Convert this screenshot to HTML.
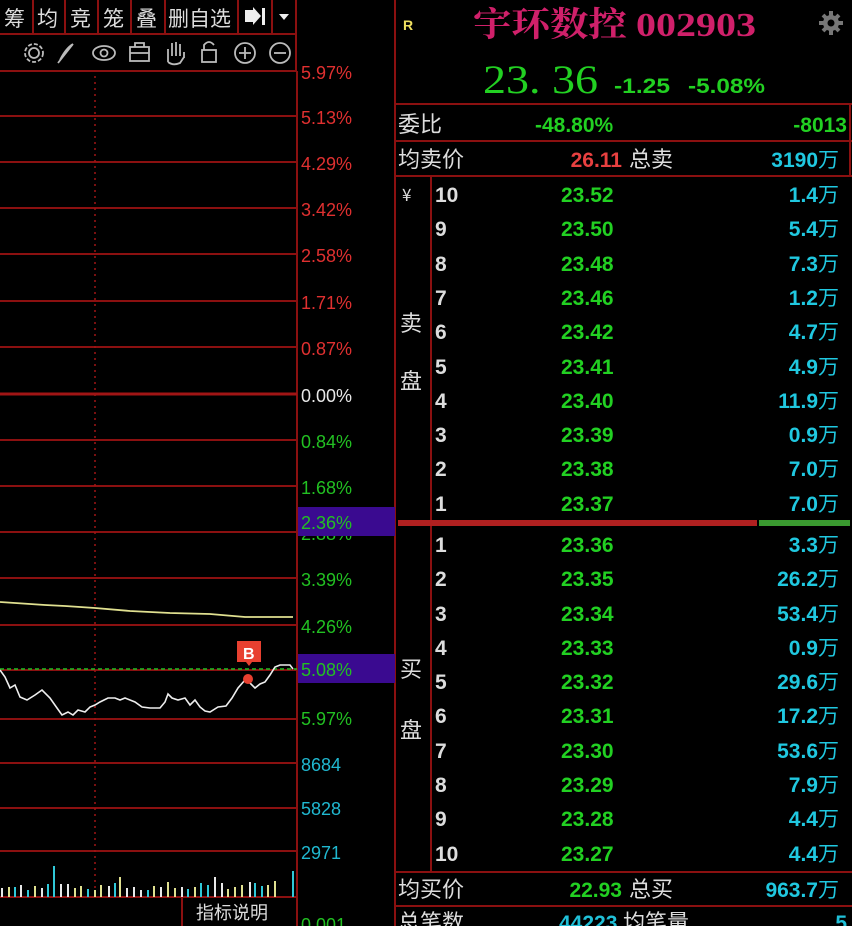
<!DOCTYPE html>
<html><head><meta charset="utf-8"><style>
html,body{margin:0;padding:0;background:#000;width:852px;height:926px;overflow:hidden}
svg{display:block}
text{font-family:"Liberation Sans","Noto Sans CJK SC",sans-serif}
text.cj,.cj text,tspan.cj{font-family:"WenQuanYi Zen Hei","Noto Sans CJK SC",sans-serif}
text.ser{font-family:"Liberation Serif","Noto Serif CJK SC",serif}
text.ttl{font-family:"Noto Serif CJK SC","Liberation Serif",serif}
</style></head><body>
<svg width="852" height="926" viewBox="0 0 852 926" xmlns="http://www.w3.org/2000/svg">
<rect width="852" height="926" fill="#000"/>
<g stroke="#8b1010" stroke-width="2" fill="none">
<line x1="0" y1="34" x2="296" y2="34"/>
<line x1="0" y1="71" x2="296" y2="71"/>
<line x1="33" y1="0" x2="33" y2="34"/><line x1="65" y1="0" x2="65" y2="34"/>
<line x1="98" y1="0" x2="98" y2="34"/><line x1="131" y1="0" x2="131" y2="34"/>
<line x1="165" y1="0" x2="165" y2="34"/><line x1="238" y1="0" x2="238" y2="34"/>
<line x1="272" y1="0" x2="272" y2="34"/><line x1="296" y1="0" x2="296" y2="71"/>
</g>
<g class="cj" fill="#ddd" font-size="21">
<text x="4" y="26">筹</text><text x="37" y="26">均</text>
<text x="70" y="26">竞</text><text x="103" y="26">笼</text>
<text x="136" y="26">叠</text><text x="168" y="26">删自选</text>
</g>
<path d="M245 10 h8 v-3 l8 9 l-8 9 v-3 h-8z" fill="#eee"/><rect x="262" y="8" width="3" height="17" fill="#eee"/>
<path d="M279 14 h10 l-5 6z" fill="#eee"/>
<g stroke="#bbb" stroke-width="1.8" fill="none">
<circle cx="34" cy="53" r="5"/><circle cx="34" cy="53" r="9" stroke-dasharray="4 2"/>
<path d="M58 63 L73 44 M60 60 q6 -12 13 -16"/>
<ellipse cx="104" cy="53" rx="11" ry="7"/><circle cx="104" cy="53" r="3.5"/>
<rect x="130" y="47" width="19" height="14"/><path d="M135 47 v-4 h9 v4 M130 53 h19"/>
<path d="M168 62 v-13 M172 56 v-13 M176 56 v-14 M180 56 v-12 M184 58 v-6 M168 62 q5 4 12 1 l4 -6"/>
<rect x="202" y="50" width="14" height="12"/><path d="M204 50 v-5 q5 -6 10 0"/>
<circle cx="245" cy="53" r="10"/><path d="M239 53 h12 M245 47 v12"/>
<circle cx="280" cy="53" r="10"/><path d="M274 53 h12"/>
</g>
<g stroke="#8b1010" stroke-width="2">
<line x1="0" y1="71" x2="297" y2="71"/><line x1="0" y1="116" x2="297" y2="116"/>
<line x1="0" y1="162" x2="297" y2="162"/><line x1="0" y1="208" x2="297" y2="208"/>
<line x1="0" y1="254" x2="297" y2="254"/><line x1="0" y1="301" x2="297" y2="301"/>
<line x1="0" y1="347" x2="297" y2="347"/>
<line x1="0" y1="440" x2="297" y2="440"/><line x1="0" y1="486" x2="297" y2="486"/>
<line x1="0" y1="532" x2="297" y2="532"/><line x1="0" y1="578" x2="297" y2="578"/>
<line x1="0" y1="625" x2="297" y2="625"/><line x1="0" y1="670" x2="297" y2="670"/>
<line x1="0" y1="719" x2="297" y2="719"/><line x1="0" y1="763" x2="297" y2="763"/>
<line x1="0" y1="808" x2="297" y2="808"/><line x1="0" y1="851" x2="297" y2="851"/>
<line x1="0" y1="897" x2="297" y2="897"/>
<line x1="297" y1="71" x2="297" y2="926"/>
<line x1="395" y1="0" x2="395" y2="926"/>
<line x1="182" y1="897" x2="182" y2="926"/>
</g>
<line x1="0" y1="394" x2="297" y2="394" stroke="#a01515" stroke-width="3"/>
<line x1="95" y1="76" x2="95" y2="897" stroke="#a01515" stroke-width="1.5" stroke-dasharray="2 4"/>
<g font-size="18">
<g fill="#e03030">
<text x="301" y="79">5.97%</text><text x="301" y="124">5.13%</text><text x="301" y="170">4.29%</text>
<text x="301" y="216">3.42%</text><text x="301" y="262">2.58%</text><text x="301" y="309">1.71%</text>
<text x="301" y="355">0.87%</text></g>
<text x="301" y="402" fill="#e8e8e8">0.00%</text>
<g fill="#22c022">
<text x="301" y="448">0.84%</text><text x="301" y="494">1.68%</text><text x="301" y="540">2.88%</text>
<text x="301" y="586">3.39%</text><text x="301" y="633">4.26%</text><text x="301" y="725">5.97%</text></g>
<g fill="#20b8d0"><text x="301" y="771">8684</text><text x="301" y="815">5828</text><text x="301" y="859">2971</text></g>
<text x="301" y="931" fill="#22c022">0.001</text>
</g>
<rect x="298" y="507" width="97" height="29" fill="#3a0a90"/>
<text x="301" y="529" font-size="18" fill="#22c022">2.36%</text>
<rect x="298" y="654" width="97" height="29" fill="#3a0a90"/>
<text x="301" y="676" font-size="18" fill="#22c022">5.08%</text>
<line x1="0" y1="669" x2="297" y2="669" stroke="#22c022" stroke-width="1.5" stroke-dasharray="4 3"/>
<polyline fill="none" stroke="#e0e090" stroke-width="1.8" points="0,602 45,605 65,606 95,608 130,611 170,613 210,614 245,617 293,617"/>
<polyline fill="none" stroke="#eee" stroke-width="1.6" points="0,670 5,677 10,688 15,685 20,697 27,700 35,695 42,690 50,698 57,708 62,715 68,712 73,715 78,710 85,712 90,707 95,705 100,702 108,698 115,698 120,700 125,698 130,700 135,702 142,707 150,708 160,708 165,702 168,694 172,698 178,700 185,698 190,705 195,700 200,707 205,711 210,712 218,707 226,706 232,698 238,688 245,680 250,683 255,688 260,684 265,682 270,675 275,667 280,665 290,665 293,669"/>
<circle cx="248" cy="679" r="5" fill="#e84030"/>
<path d="M237 641 h24 v21 h-9 l-3 4 l-3 -4 h-9z" fill="#e84030"/>
<text x="243" y="659" font-size="16" fill="#fff" font-weight="bold">B</text>
<g stroke-width="2">
<g stroke="#e8e8e8"><line x1="2" y1="897" x2="2" y2="888"/><line x1="21" y1="897" x2="21" y2="885"/><line x1="42" y1="897" x2="42" y2="888"/><line x1="61" y1="897" x2="61" y2="884"/><line x1="68" y1="897" x2="68" y2="884"/><line x1="109" y1="897" x2="109" y2="886"/><line x1="127" y1="897" x2="127" y2="888"/><line x1="134" y1="897" x2="134" y2="887"/><line x1="141" y1="897" x2="141" y2="890"/><line x1="161" y1="897" x2="161" y2="887"/><line x1="182" y1="897" x2="182" y2="887"/><line x1="215" y1="897" x2="215" y2="877"/><line x1="222" y1="897" x2="222" y2="883"/><line x1="250" y1="897" x2="250" y2="882"/></g>
<g stroke="#e0e090"><line x1="9" y1="897" x2="9" y2="887"/><line x1="35" y1="897" x2="35" y2="886"/><line x1="75" y1="897" x2="75" y2="888"/><line x1="81" y1="897" x2="81" y2="886"/><line x1="95" y1="897" x2="95" y2="890"/><line x1="101" y1="897" x2="101" y2="885"/><line x1="120" y1="897" x2="120" y2="877"/><line x1="154" y1="897" x2="154" y2="886"/><line x1="168" y1="897" x2="168" y2="882"/><line x1="175" y1="897" x2="175" y2="888"/><line x1="195" y1="897" x2="195" y2="887"/><line x1="228" y1="897" x2="228" y2="889"/><line x1="235" y1="897" x2="235" y2="887"/><line x1="242" y1="897" x2="242" y2="885"/><line x1="268" y1="897" x2="268" y2="885"/><line x1="275" y1="897" x2="275" y2="881"/></g>
<g stroke="#30c8d8"><line x1="15" y1="897" x2="15" y2="887"/><line x1="28" y1="897" x2="28" y2="890"/><line x1="48" y1="897" x2="48" y2="884"/><line x1="54" y1="897" x2="54" y2="866"/><line x1="88" y1="897" x2="88" y2="889"/><line x1="115" y1="897" x2="115" y2="883"/><line x1="148" y1="897" x2="148" y2="890"/><line x1="188" y1="897" x2="188" y2="889"/><line x1="201" y1="897" x2="201" y2="883"/><line x1="208" y1="897" x2="208" y2="885"/><line x1="255" y1="897" x2="255" y2="883"/><line x1="262" y1="897" x2="262" y2="886"/><line x1="293" y1="897" x2="293" y2="871"/></g>
</g>
<text x="196" y="919" class="cj" font-size="18" fill="#ddd">指标说明</text>
<text x="403" y="30" font-size="14" font-weight="bold" fill="#f0e060">R</text>
<text x="473" y="36" class="ttl" font-size="34" font-weight="bold" fill="#d0206a" textLength="154" lengthAdjust="spacingAndGlyphs">宇环数控</text>
<text x="636" y="36" class="ser" font-size="34" font-weight="bold" fill="#d0206a" textLength="120" lengthAdjust="spacingAndGlyphs">002903</text>
<g fill="#777"><circle cx="831" cy="23" r="8"/></g>
<g stroke="#777" stroke-width="4"><line x1="831" y1="11" x2="831" y2="35"/><line x1="819" y1="23" x2="843" y2="23"/><line x1="823" y1="15" x2="839" y2="31"/><line x1="839" y1="15" x2="823" y2="31"/></g>
<circle cx="831" cy="23" r="3.5" fill="#000"/>
<text x="483" y="93" class="ser" font-size="40" fill="#22d022" textLength="115" lengthAdjust="spacingAndGlyphs">23. 36</text>
<text x="614" y="93" font-size="21" font-weight="bold" fill="#22d022" textLength="56" lengthAdjust="spacingAndGlyphs">-1.25</text>
<text x="688" y="93" font-size="21" font-weight="bold" fill="#22d022" textLength="77" lengthAdjust="spacingAndGlyphs">-5.08%</text>
<g stroke="#8b1010" stroke-width="2">
<line x1="395" y1="104" x2="852" y2="104"/><line x1="395" y1="141" x2="852" y2="141"/>
<line x1="395" y1="176" x2="852" y2="176"/><line x1="395" y1="872" x2="852" y2="872"/>
<line x1="395" y1="906" x2="852" y2="906"/><line x1="431" y1="176" x2="431" y2="872"/>
<line x1="850" y1="104" x2="850" y2="176"/>
</g>
<g class="cj" font-size="22" fill="#ddd">
<text x="398" y="132">委比</text><text x="398" y="167">均卖价</text><text x="629" y="167">总卖</text>
<text x="398" y="897">均买价</text><text x="629" y="897">总买</text>
<text x="398" y="930">总笔数</text><text x="623" y="930">均笔量</text>
<text x="400" y="331">卖</text><text x="400" y="389">盘</text>
<text x="400" y="677">买</text><text x="400" y="738">盘</text>
<text x="402" y="201" font-size="17">¥</text>
</g>
<g font-size="21" font-weight="bold">
<text x="535" y="132" fill="#22d022">-48.80%</text>
<text x="847" y="132" text-anchor="end" fill="#22d022">-8013</text>
<text x="622" y="167" text-anchor="end" fill="#e84040">26.11</text>
<text x="622" y="897" text-anchor="end" fill="#22d022">22.93</text>
<text x="559" y="930" fill="#20c0d8">44223</text>
<text x="847" y="930" text-anchor="end" fill="#20c0d8">5</text>
</g>
<g font-size="21" font-weight="bold" fill="#20c8e0" text-anchor="end">
<text x="818" y="167">3190</text>
<text x="818" y="897">963.7</text>
</g>
<g class="cj" font-size="21" fill="#20c8e0"><text x="818" y="167">万</text><text x="818" y="897">万</text></g>
<rect x="398" y="520" width="359" height="6" fill="#b02020"/>
<rect x="759" y="520" width="91" height="6" fill="#3a9a30"/>
<g font-size="21" font-weight="bold">
<g fill="#ddd">
<text x="435" y="202">10</text><text x="435" y="236">9</text><text x="435" y="271">8</text><text x="435" y="305">7</text><text x="435" y="339">6</text><text x="435" y="374">5</text><text x="435" y="408">4</text><text x="435" y="442">3</text><text x="435" y="476">2</text><text x="435" y="511">1</text>
<text x="435" y="552">1</text><text x="435" y="586">2</text><text x="435" y="621">3</text><text x="435" y="655">4</text><text x="435" y="689">5</text><text x="435" y="723">6</text><text x="435" y="758">7</text><text x="435" y="792">8</text><text x="435" y="826">9</text><text x="435" y="861">10</text>
</g>
<g fill="#22d022">
<text x="561" y="202">23.52</text><text x="561" y="236">23.50</text><text x="561" y="271">23.48</text><text x="561" y="305">23.46</text><text x="561" y="339">23.42</text><text x="561" y="374">23.41</text><text x="561" y="408">23.40</text><text x="561" y="442">23.39</text><text x="561" y="476">23.38</text><text x="561" y="511">23.37</text>
<text x="561" y="552">23.36</text><text x="561" y="586">23.35</text><text x="561" y="621">23.34</text><text x="561" y="655">23.33</text><text x="561" y="689">23.32</text><text x="561" y="723">23.31</text><text x="561" y="758">23.30</text><text x="561" y="792">23.29</text><text x="561" y="826">23.28</text><text x="561" y="861">23.27</text>
</g>
<g fill="#20c8e0" text-anchor="end">
<text x="818" y="202">1.4</text><text x="818" y="236">5.4</text><text x="818" y="271">7.3</text><text x="818" y="305">1.2</text><text x="818" y="339">4.7</text><text x="818" y="374">4.9</text><text x="818" y="408">11.9</text><text x="818" y="442">0.9</text><text x="818" y="476">7.0</text><text x="818" y="511">7.0</text>
<text x="818" y="552">3.3</text><text x="818" y="586">26.2</text><text x="818" y="621">53.4</text><text x="818" y="655">0.9</text><text x="818" y="689">29.6</text><text x="818" y="723">17.2</text><text x="818" y="758">53.6</text><text x="818" y="792">7.9</text><text x="818" y="826">4.4</text><text x="818" y="861">4.4</text>
</g>
</g>
<g class="cj" font-size="21" fill="#20c8e0">
<text x="818" y="202">万</text><text x="818" y="236">万</text><text x="818" y="271">万</text><text x="818" y="305">万</text><text x="818" y="339">万</text><text x="818" y="374">万</text><text x="818" y="408">万</text><text x="818" y="442">万</text><text x="818" y="476">万</text><text x="818" y="511">万</text>
<text x="818" y="552">万</text><text x="818" y="586">万</text><text x="818" y="621">万</text><text x="818" y="655">万</text><text x="818" y="689">万</text><text x="818" y="723">万</text><text x="818" y="758">万</text><text x="818" y="792">万</text><text x="818" y="826">万</text><text x="818" y="861">万</text>
</g>
</svg>
</body></html>
